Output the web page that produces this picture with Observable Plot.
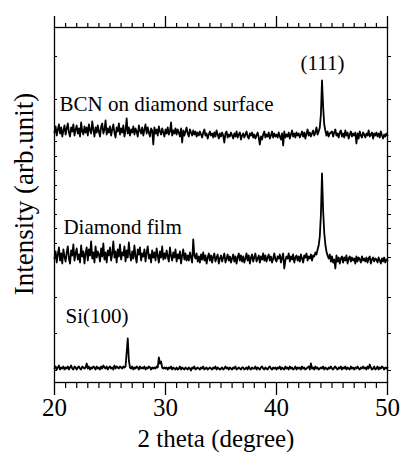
<!DOCTYPE html>
<html>
<head>
<meta charset="utf-8">
<script src="https://cdn.jsdelivr.net/npm/d3@7"></script>
<script src="https://cdn.jsdelivr.net/npm/@observablehq/plot@0.6"></script>
<style>
  html, body { margin: 0; padding: 0; background: #fff; }
  svg { display: block; }
  svg, svg text, svg tspan { font-family: "Liberation Serif", "Tinos", "Times New Roman", "Nimbus Roman", "DejaVu Serif", serif !important; }
</style>
</head>
<body>
<script>
// 2θ sampling grid: 20.0° … 50.0° in 0.1° steps (301 points per pattern)
const angleStart = 20, angleStep = 0.1, nPoints = 301;

// Intensity (arb. units, traces already stacked), one row per degree
const bcnOnDiamond = [
  250,256,247,253,258,249,255,246,252,257,
  248,254,259,250,246,255,251,258,247,253,
  257,249,254,246,260,251,248,256,250,255,
  247,258,252,249,261,253,246,255,250,257,
  251,246,256,259,249,253,262,248,254,250,
  256,247,253,258,250,245,255,251,259,248,
  254,250,257,246,252,264,249,255,247,253,
  250,256,248,254,251,246,257,252,249,255,
  247,253,258,249,255,250,246,254,252,238,
  255,249,253,247,256,251,248,254,250,246,
  253,249,255,248,251,260,247,252,249,254,
  248,253,250,246,254,240,252,247,251,255,
  249,246,253,250,247,252,248,251,246,250,
  247,251,248,245,250,253,247,249,244,248,
  251,247,249,245,250,246,252,248,244,249,
  246,250,247,240,249,251,245,248,246,250,
  247,244,249,246,251,245,248,250,243,247,
  249,245,248,251,246,244,249,247,250,245,
  248,244,247,250,245,238,246,243,248,251,
  245,248,246,250,244,247,251,245,249,246,
  248,245,250,246,243,249,237,251,245,248,
  246,250,244,248,252,246,249,245,250,247,
  249,245,248,251,246,250,244,249,253,247,
  250,246,249,252,247,250,255,248,251,255,
  268,302,276,258,252,247,251,246,249,250,
  251,246,250,253,247,249,245,250,252,246,
  249,245,252,247,250,244,248,251,246,249,
  247,250,239,249,244,251,247,245,250,248,
  245,249,247,252,246,248,250,244,249,247,
  250,246,249,245,251,247,244,248,246,249,
  247
];
const diamondFilm = [
  124,131,120,128,135,122,129,119,133,126,
  121,130,136,124,119,132,127,138,122,129,
  134,123,128,120,137,126,131,119,129,135,
  122,133,127,141,124,130,120,136,125,131,
  128,121,134,126,139,123,130,120,132,127,
  135,122,129,141,125,131,120,133,126,138,
  123,130,127,136,121,132,125,140,128,122,
  131,124,137,126,120,133,128,135,122,129,
  126,133,121,130,136,124,128,120,132,125,
  130,122,134,127,120,131,125,136,123,129,
  124,132,126,121,135,127,122,130,125,133,
  121,128,124,131,119,127,133,123,129,122,
  127,122,130,125,120,143,127,124,129,121,
  126,120,128,123,130,122,127,119,125,129,
  122,127,120,126,129,121,125,128,119,124,
  127,121,125,129,120,124,128,122,126,120,
  124,128,121,126,119,125,129,122,127,121,
  126,120,124,129,122,127,119,125,128,121,
  125,129,121,124,127,120,126,123,129,122,
  127,121,125,128,122,126,120,124,129,123,
  121,126,124,128,120,125,129,114,122,126,
  124,129,121,126,123,128,120,125,127,122,
  126,121,128,124,120,127,125,129,122,126,
  124,128,122,127,126,130,128,133,137,146,
  168,209,172,150,138,131,127,124,128,121,
  126,120,123,114,127,121,125,119,124,126,
  120,125,122,127,119,124,126,121,125,122,
  124,119,126,121,125,123,120,126,122,124,
  121,125,120,124,126,119,123,125,121,124,
  123,120,125,122,119,124,121,125,120,123,
  122
];
const si100 = [
  14,16,13,15,17,13,15,14,16,13,
  15,14,16,13,15,17,14,13,16,15,
  13,15,16,14,13,16,15,14,15,19,
  14,16,13,15,14,16,15,13,16,14,
  15,13,16,14,17,15,14,16,13,15,
  16,14,15,13,17,14,16,15,14,16,
  15,14,16,15,16,30,44,22,15,14,
  16,13,15,14,16,15,13,16,14,15,
  14,16,13,15,14,16,15,13,15,14,
  15,14,16,15,25,19,21,15,14,15,
  14,15,13,15,14,16,13,15,14,13,
  15,13,14,16,13,15,14,13,15,14,
  13,15,14,12,15,14,16,13,14,15,
  14,13,15,14,16,13,14,15,13,14,
  15,14,13,15,14,16,13,15,14,13,
  14,15,13,14,16,14,15,13,15,14,
  13,15,14,16,13,14,15,14,13,15,
  15,13,14,15,13,16,14,13,15,14,
  14,16,13,15,14,13,15,16,14,13,
  15,14,13,15,16,14,13,15,14,15,
  13,15,14,16,13,15,14,13,16,14,
  15,13,16,14,15,13,14,16,13,15,
  14,15,13,16,14,15,13,14,15,16,
  13,19,14,15,13,16,14,15,13,14,
  15,14,16,13,15,14,13,15,14,16,
  14,13,15,16,14,13,15,14,16,13,
  15,14,16,13,15,14,13,16,14,15,
  13,15,14,16,14,13,15,14,16,14,
  15,13,16,14,18,15,13,14,16,13,
  14,16,13,15,14,16,15,13,15,14,
  15
];

// Annotations (left-aligned sample labels, centred peak label)
const sampleLabels = ["BCN on diamond surface", "Diamond film", "Si(100)"];
const sampleLabelAngles = [20.45, 20.8, 21.0];
const sampleLabelLevels = [272, 149, 60];
const peakLabels = ["(111)"];
const peakLabelAngles = [44.15];
const peakLabelLevels = [313];

// Axes
const xMajorTicks = [20, 30, 40, 50];
const xMinorTicks = d3.range(21, 50).filter(v => v % 10 !== 0);
const yTicks = [326, 283, 241, 226, 212, 197, 183, 168, 154, 139, 125, 85, 49, 12];
const xLabel = "2 theta (degree)";
const yLabel = "Intensity (arb.unit)";

const angles = d3.range(nPoints).map(i => (angleStart * 10 + i) / 10);
const toRows = arr => arr.map((v, i) => ({angle: angles[i], value: v}));
const sampleRows = sampleLabels.map((t, i) => ({text: t, angle: sampleLabelAngles[i], level: sampleLabelLevels[i]}));
const peakRows = peakLabels.map((t, i) => ({text: t, angle: peakLabelAngles[i], level: peakLabelLevels[i]}));

const serif = "'Liberation Serif', Tinos, 'Times New Roman', 'Nimbus Roman', 'DejaVu Serif', serif";

const chart = Plot.plot({
  width: 401,
  height: 453,
  marginLeft: 54,
  marginRight: 14,
  marginTop: 27,
  marginBottom: 71,
  style: {fontFamily: serif, background: "white", color: "black", overflow: "visible"},
  x: {domain: [20, 50], label: null},
  y: {domain: [0, 355], label: null},
  marks: [
    Plot.lineY(toRows(si100), {x: "angle", y: "value", stroke: "black", strokeWidth: 1.8}),
    Plot.lineY(toRows(diamondFilm), {x: "angle", y: "value", stroke: "black", strokeWidth: 1.8}),
    Plot.lineY(toRows(bcnOnDiamond), {x: "angle", y: "value", stroke: "black", strokeWidth: 1.8}),
    Plot.frame({stroke: "black", strokeWidth: 1.3}),
    Plot.axisX({anchor: "top", ticks: xMinorTicks, tickSize: 5, tickFormat: () => "", label: null, strokeWidth: 1.2}),
    Plot.axisX({anchor: "top", ticks: xMajorTicks, tickSize: 12, tickFormat: () => "", label: null, strokeWidth: 1.3}),
    Plot.axisX({anchor: "bottom", ticks: xMinorTicks, tickSize: 6, tickFormat: () => "", label: null, strokeWidth: 1.2}),
    Plot.axisX({anchor: "bottom", ticks: xMajorTicks, tickSize: 13, tickPadding: 3, tickFormat: d => String(d), fontSize: 25, fontFamily: serif, label: null, strokeWidth: 1.3}),
    Plot.axisY({anchor: "left", ticks: yTicks, tickSize: -3, tickFormat: () => "", label: null}),
    Plot.axisY({anchor: "right", ticks: yTicks, tickSize: 3, tickFormat: () => "", label: null}),
    Plot.text(sampleRows, {x: "angle", y: "level", text: "text", textAnchor: "start", lineAnchor: "bottom", fontSize: 21, fontFamily: serif, fill: "black"}),
    Plot.text(peakRows, {x: "angle", y: "level", text: "text", textAnchor: "middle", lineAnchor: "bottom", fontSize: 21, fontFamily: serif, fill: "black"}),
    Plot.text([xLabel], {frameAnchor: "bottom", dx: -5, dy: 64, textAnchor: "middle", lineAnchor: "bottom", fontSize: 25, fontFamily: serif, fill: "black"}),
    Plot.text([yLabel], {frameAnchor: "left", dx: -21.5, dy: -11, rotate: -90, textAnchor: "middle", lineAnchor: "bottom", fontSize: 27, fontFamily: serif, fill: "black"})
  ]
});
document.body.appendChild(chart);
</script>
</body>
</html>
